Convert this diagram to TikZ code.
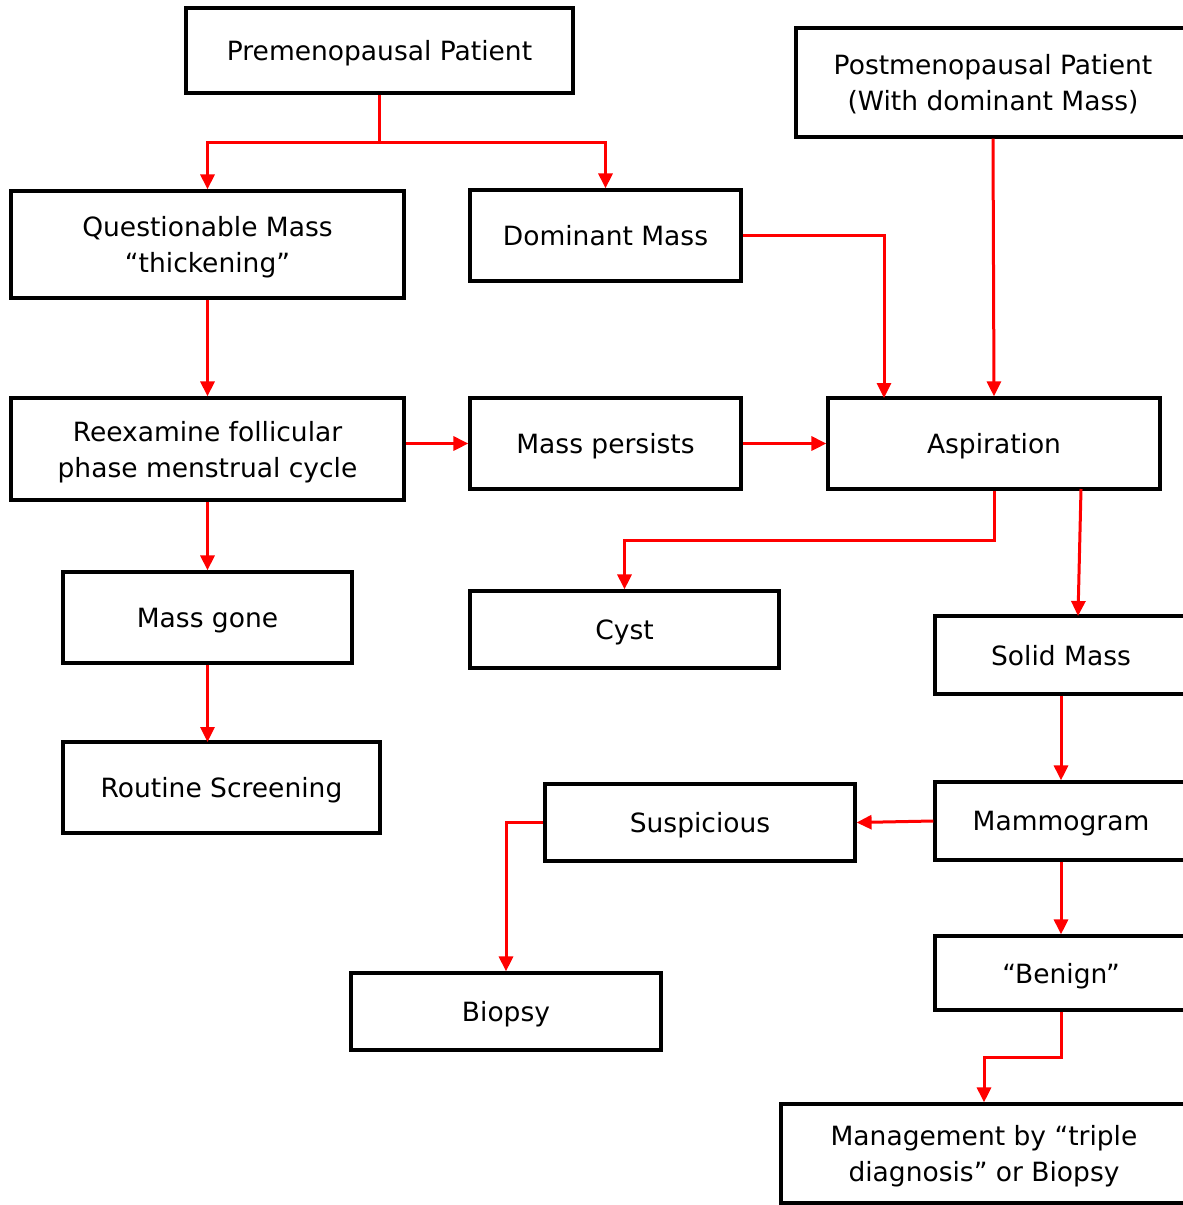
\documentclass[tikz,border=0pt]{standalone}
\usepackage{fontspec}
\setmainfont{DejaVu Sans}
\usetikzlibrary{arrows.meta}
\begin{document}
\begin{tikzpicture}[x=1pt,y=-1pt,
 box/.style={draw=black,line width=3.2pt,rectangle,align=center,font=\fontsize{26.5}{36}\selectfont,inner sep=0pt,text depth=0pt},
 arr/.style={draw=red,line width=3pt,-{Triangle[length=15pt,width=14pt]}}]
\useasboundingbox (0,0) rectangle (1183,1205);
\clip (0,0) rectangle (1183,1205);
\node[box,minimum width=387pt,minimum height=85pt] (pre) at (379.5,50.5) {Premenopausal Patient};
\node[box,minimum width=394pt,minimum height=109pt] (post) at (993,82.5) {Postmenopausal Patient\\(With dominant Mass)};
\node[box,minimum width=393pt,minimum height=107pt] (q) at (207.5,244.5) {Questionable Mass\\“thickening”};
\node[box,minimum width=271pt,minimum height=91pt] (dom) at (605.5,235.5) {Dominant Mass};
\node[box,minimum width=393pt,minimum height=102pt] (re) at (207.5,449) {Reexamine follicular\\phase menstrual cycle};
\node[box,minimum width=271pt,minimum height=91pt] (per) at (605.5,443.5) {Mass persists};
\node[box,minimum width=332pt,minimum height=91pt] (asp) at (994,443.5) {Aspiration};
\node[box,minimum width=289pt,minimum height=91pt] (gone) at (207.5,617.5) {Mass gone};
\node[box,minimum width=309pt,minimum height=77pt] (cyst) at (624.5,629.5) {Cyst};
\node[box,minimum width=252pt,minimum height=78pt] (solid) at (1061,655) {Solid Mass};
\node[box,minimum width=317pt,minimum height=91pt] (rout) at (221.5,787.5) {Routine Screening};
\node[box,minimum width=310pt,minimum height=77pt] (sus) at (700,822.5) {Suspicious};
\node[box,minimum width=252pt,minimum height=78pt] (mam) at (1061,821) {Mammogram};
\node[box,minimum width=252pt,minimum height=74pt] (ben) at (1061,973) {“Benign”};
\node[box,minimum width=310pt,minimum height=77pt] (bio) at (506,1011.5) {Biopsy};
\node[box,minimum width=406pt,minimum height=99pt] (man) at (984,1153.5) {Management by “triple\\diagnosis” or Biopsy};
\coordinate (j1) at (379.5,142);
\draw[arr] (pre.south) -- (j1) -| (q.north);
\draw[arr] (j1) -| (dom.north);
\draw[arr] (dom.east) -| (884,398);
\draw[arr] (post.south) -- (asp.north);
\draw[arr] (q.south) -- (re.north);
\draw[arr] (re.east |- per.west) -- (per.west);
\draw[arr] (per.east) -- (asp.west);
\draw[arr] (asp.south) -- (994,540) -| (cyst.north);
\draw[arr] (1081,489) -- (1078,616);
\draw[arr] (re.south) -- (gone.north);
\draw[arr] (gone.south) -- (207.5,742);
\draw[arr] (solid.south) -- (mam.north);
\draw[arr] (mam.west) -- (sus.east);
\draw[arr] (sus.west) -| (bio.north);
\draw[arr] (mam.south) -- (ben.north);
\draw[arr] (ben.south) -- (1061,1057) -| (man.north);
\end{tikzpicture}
\end{document}
